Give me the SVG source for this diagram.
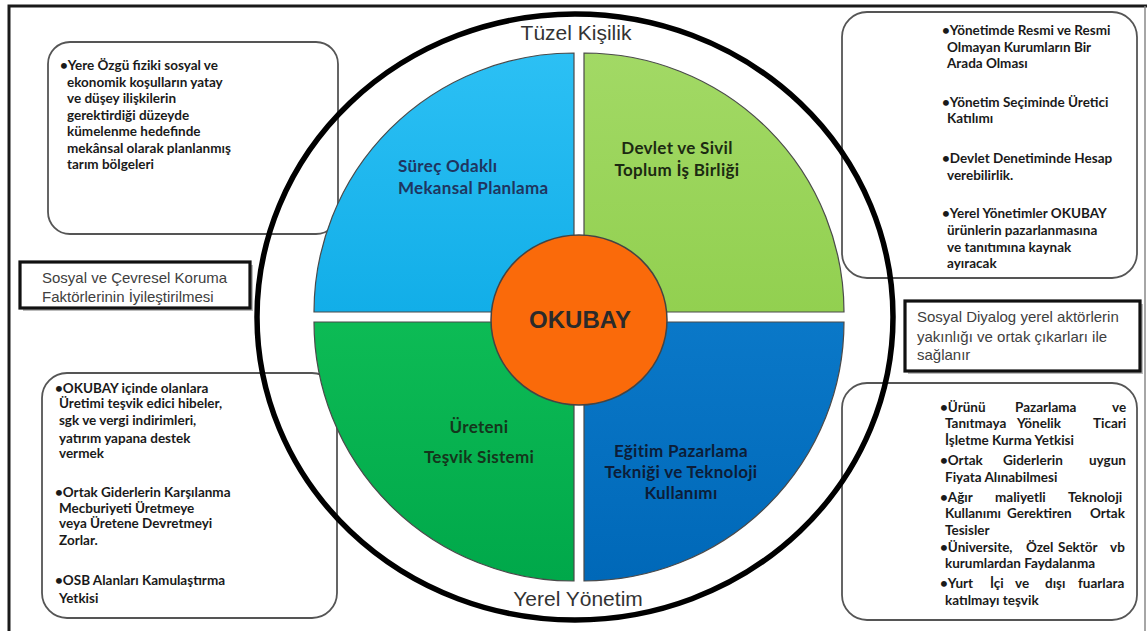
<svg xmlns="http://www.w3.org/2000/svg" width="1147" height="631" viewBox="0 0 1147 631">
<style>
.box{fill:#fff;stroke:#555;stroke-width:1.8}
.bx{fill:#fff;stroke:#111;stroke-width:3.2}
.sh{fill:#bbb}
.bt{font-family:Lato,"Open Sans",sans-serif;font-weight:700;font-size:13.5px;fill:#1a1a1a}
.mt{font-family:"Liberation Sans",Arial,sans-serif;font-size:15px;fill:#404040}
.ql{font-family:Lato,"Open Sans",sans-serif;font-weight:700;font-size:17px;letter-spacing:0.3px}
.lbl{font-family:"Liberation Sans",Arial,sans-serif;font-size:21px;fill:#333;text-anchor:middle}
.q{stroke:#4a4a4a;stroke-width:1.2}
</style>
<defs>
<linearGradient id="gTL" x1="0" y1="0" x2="0" y2="1"><stop offset="0" stop-color="#2cc0f4"/><stop offset="1" stop-color="#12aee8"/></linearGradient>
<linearGradient id="gTR" x1="0" y1="0" x2="0" y2="1"><stop offset="0" stop-color="#a2d965"/><stop offset="1" stop-color="#92d050"/></linearGradient>
<linearGradient id="gBL" x1="0" y1="0" x2="0" y2="1"><stop offset="0" stop-color="#0dbb55"/><stop offset="1" stop-color="#00a84a"/></linearGradient>
<linearGradient id="gBR" x1="0" y1="0" x2="0" y2="1"><stop offset="0" stop-color="#0a78c8"/><stop offset="1" stop-color="#0068b8"/></linearGradient>
</defs>
<rect width="1147" height="631" fill="#fff"/>
<g id="frame">
<path d="M9,631 V6 H1147" fill="none" stroke="#1a1a1a" stroke-width="3"/>
<path d="M1145,6 V631" fill="none" stroke="#888" stroke-width="1.5"/>
</g>

<g id="box-top-left">
<rect class="box" x="48" y="42" width="290" height="192" rx="22"/>
<text class="bt"><tspan x="60" y="70">•Yere Özgü fiziki sosyal ve</tspan><tspan x="67" y="86.5">ekonomik koşulların yatay</tspan><tspan x="67" y="103">ve düşey ilişkilerin</tspan><tspan x="67" y="119.5">gerektirdiği düzeyde</tspan><tspan x="67" y="136">kümelenme hedefinde</tspan><tspan x="67" y="152.5">mekânsal olarak planlanmış</tspan><tspan x="67" y="169">tarım bölgeleri</tspan></text>
</g>

<g id="box-top-right">
<rect class="box" x="842" y="12" width="295" height="266" rx="25"/>
<text class="bt"><tspan x="942" y="35">•Yönetimde Resmi ve Resmi</tspan><tspan x="947" y="52">Olmayan Kurumların Bir</tspan><tspan x="947" y="68">Arada Olması</tspan><tspan x="942" y="107">•Yönetim Seçiminde Üretici</tspan><tspan x="947" y="123">Katılımı</tspan><tspan x="942" y="163">•Devlet Denetiminde Hesap</tspan><tspan x="947" y="180">verebilirlik.</tspan><tspan x="942" y="218">•Yerel Yönetimler OKUBAY</tspan><tspan x="947" y="235">ürünlerin  pazarlanmasına</tspan><tspan x="947" y="252">ve tanıtımına kaynak</tspan><tspan x="947" y="268">ayıracak</tspan></text>
</g>

<g id="box-bottom-left">
<rect class="box" x="42" y="373" width="295" height="245" rx="25"/>
<text class="bt"><tspan x="55" y="393">•OKUBAY içinde olanlara</tspan><tspan x="59" y="408">Üretimi teşvik edici hibeler,</tspan><tspan x="59" y="425">sgk ve vergi indirimleri,</tspan><tspan x="59" y="443">yatırım yapana  destek</tspan><tspan x="59" y="458">vermek</tspan><tspan x="55" y="497">•Ortak Giderlerin Karşılanma</tspan><tspan x="59" y="513">Mecburiyeti Üretmeye</tspan><tspan x="59" y="528">veya Üretene Devretmeyi</tspan><tspan x="59" y="545">Zorlar.</tspan><tspan x="55" y="585">•OSB Alanları Kamulaştırma</tspan><tspan x="59" y="603">Yetkisi</tspan></text>
</g>

<g id="box-bottom-right">
<rect class="box" x="842" y="383" width="295" height="237" rx="25"/>
<text class="bt">
<tspan x="940" y="412">•Ürünü</tspan><tspan x="1015" y="412">Pazarlama</tspan><tspan x="1112" y="412">ve</tspan>
<tspan x="945" y="428">Tanıtmaya</tspan><tspan x="1017" y="428">Yönelik</tspan><tspan x="1093" y="428">Ticari</tspan>
<tspan x="945" y="445">İşletme Kurma Yetkisi</tspan>
<tspan x="940" y="465">•Ortak</tspan><tspan x="1003" y="465">Giderlerin</tspan><tspan x="1089" y="465">uygun</tspan>
<tspan x="945" y="482">Fiyata Alınabilmesi</tspan>
<tspan x="940" y="502">•Ağır</tspan><tspan x="995" y="502">maliyetli</tspan><tspan x="1068" y="502">Teknoloji</tspan>
<tspan x="945" y="518">Kullanımı</tspan><tspan x="1007" y="518">Gerektiren</tspan><tspan x="1090" y="518">Ortak</tspan>
<tspan x="945" y="535">Tesisler</tspan>
<tspan x="940" y="552">•Üniversite,</tspan><tspan x="1026" y="552">Özel</tspan><tspan x="1058" y="552">Sektör</tspan><tspan x="1110" y="552">vb</tspan>
<tspan x="945" y="568">kurumlardan Faydalanma</tspan>
<tspan x="940" y="588">•Yurt</tspan><tspan x="990" y="588">İçi</tspan><tspan x="1015" y="588">ve</tspan><tspan x="1045" y="588">dışı</tspan><tspan x="1078" y="588">fuarlara</tspan>
<tspan x="945" y="605">katılmayı teşvik</tspan>
</text>
</g>

<g id="box-mid-left">
<rect class="sh" x="23" y="265" width="230" height="46"/>
<rect class="bx" x="20" y="262" width="230" height="46"/>
<text class="mt"><tspan x="42" y="283">Sosyal ve Çevresel Koruma</tspan><tspan x="42" y="302">Faktörlerinin  İyileştirilmesi</tspan></text>
</g>

<g id="box-mid-right">
<rect class="sh" x="908" y="304" width="235" height="70"/>
<rect class="bx" x="905" y="301" width="235" height="70"/>
<text class="mt"><tspan x="917" y="322">Sosyal Diyalog yerel aktörlerin</tspan><tspan x="917" y="342">yakınlığı  ve ortak çıkarları ile</tspan><tspan x="917" y="360">sağlanır</tspan></text>
</g>

<g id="outer-ring">
<ellipse cx="575" cy="317" rx="318" ry="303" fill="none" stroke="#000" stroke-width="5.5"/>
<text class="lbl" x="576" y="40">Tüzel Kişilik</text>
<text class="lbl" x="578" y="606">Yerel Yönetim</text>
</g>

<g id="q-top-left">
<path class="q" d="M574,312 H314 A260,259 0 0 1 574,53 Z" fill="url(#gTL)"/>
<text class="ql" fill="#1f3560"><tspan x="398" y="172">Süreç Odaklı</tspan><tspan x="398" y="194">Mekansal Planlama</tspan></text>
</g>
<g id="q-top-right">
<path class="q" d="M584,312 V53 A260,259 0 0 1 844,312 Z" fill="url(#gTR)"/>
<text class="ql" fill="#1c2a12" text-anchor="middle"><tspan x="677" y="154">Devlet ve Sivil</tspan><tspan x="677" y="176">Toplum İş Birliği</tspan></text>
</g>
<g id="q-bottom-left">
<path class="q" d="M574,322 V581 A260,259 0 0 1 314,322 Z" fill="url(#gBL)"/>
<text class="ql" fill="#14361c" text-anchor="middle"><tspan x="479" y="433">Üreteni</tspan><tspan x="479" y="463">Teşvik Sistemi</tspan></text>
</g>
<g id="q-bottom-right">
<path class="q" d="M584,322 H844 A260,259 0 0 1 584,581 Z" fill="url(#gBR)"/>
<text class="ql" fill="#0c1d38" text-anchor="middle"><tspan x="681" y="457">Eğitim Pazarlama</tspan><tspan x="681" y="478">Tekniği ve Teknoloji</tspan><tspan x="681" y="499">Kullanımı</tspan></text>
</g>

<g id="okubay">
<ellipse cx="579" cy="320" rx="88" ry="85" fill="#fa6a0a" stroke="#444" stroke-width="1.5"/>
<text x="580" y="328" text-anchor="middle" font-family="Liberation Sans,Arial,sans-serif" font-weight="700" font-size="24" fill="#2a2a2a">OKUBAY</text>
</g>
</svg>
